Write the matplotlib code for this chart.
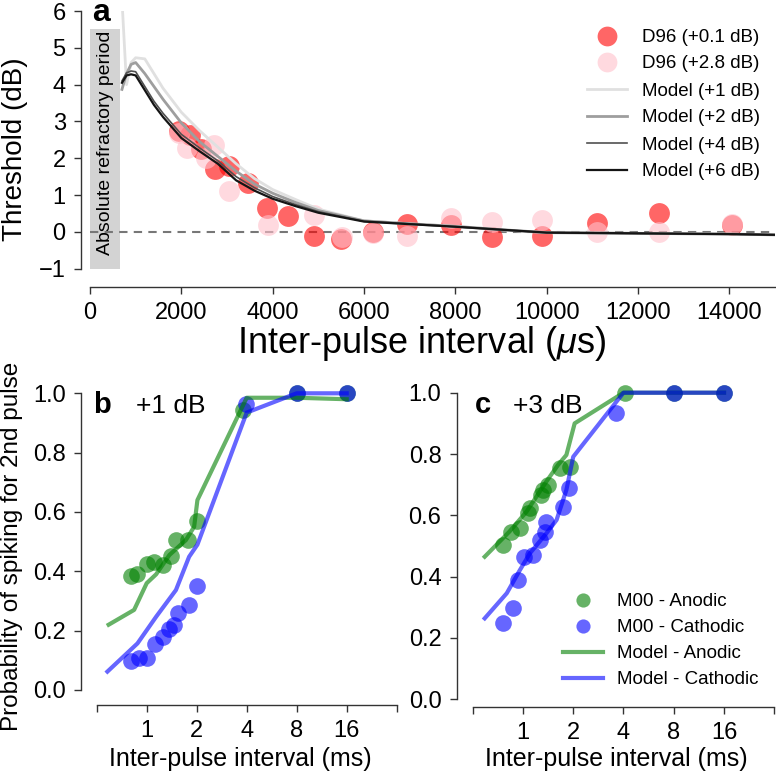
import matplotlib
matplotlib.use('Agg')
import matplotlib.pyplot as plt
from matplotlib.lines import Line2D
from matplotlib.patches import Rectangle

plt.rcParams['font.family'] = ['Liberation Sans', 'DejaVu Sans']
plt.rcParams['mathtext.fontset'] = 'custom'
plt.rcParams['mathtext.it'] = 'Liberation Sans:italic'
plt.rcParams['mathtext.rm'] = 'Liberation Sans'

# ---------------- data: panel a ----------------
d96_lo_x = [1950, 2200, 2420, 2730, 3050, 3450, 3870, 4330, 4900, 5500, 6200, 6950, 7900, 8800, 9900, 11100, 12450, 14050]
d96_lo_y = [2.73, 2.64, 2.26, 1.71, 1.80, 1.33, 0.64, 0.42, -0.11, -0.20, 0.0, 0.22, 0.19, -0.13, -0.11, 0.24, 0.51, 0.19]
d96_hi_x = [1950, 2130, 2530, 2720, 3050, 3900, 4900, 5520, 6200, 6950, 7900, 8800, 9900, 11100, 12450, 14050]
d96_hi_y = [2.68, 2.28, 2.02, 2.35, 1.10, 0.19, 0.46, -0.15, -0.02, -0.12, 0.37, 0.28, 0.33, 0.01, 0.01, 0.22]

model_x = [700, 800, 900, 1000, 1200, 1400, 1600, 2000, 2400, 2800, 3200, 3600, 4000, 4500, 5000,
           6000, 7000, 8000, 9000, 10000, 11000, 12000, 13000, 14000, 15000]
model_1db = [6.3, 4.0, 4.6, 4.73, 4.70, 4.30, 3.90, 3.25, 2.75, 2.30, 1.85, 1.45, 1.15, 0.88, 0.62,
             0.30, 0.22, 0.15, 0.06, -0.02, -0.03, -0.04, -0.05, -0.06, -0.08]
model_2db = [3.87, 4.30, 4.55, 4.60, 4.30, 3.95, 3.60, 2.96, 2.45, 2.05, 1.65, 1.30, 1.05, 0.80, 0.58,
             0.30, 0.22, 0.15, 0.06, -0.02, -0.03, -0.04, -0.05, -0.06, -0.08]
model_4db = [4.10, 4.32, 4.37, 4.35, 3.95, 3.55, 3.22, 2.65, 2.28, 1.93, 1.50, 1.20, 0.96, 0.74, 0.55,
             0.29, 0.22, 0.14, 0.06, -0.02, -0.03, -0.04, -0.05, -0.06, -0.08]
model_6db = [4.05, 4.25, 4.28, 4.25, 3.85, 3.45, 3.12, 2.55, 2.19, 1.85, 1.40, 1.12, 0.90, 0.70, 0.52,
             0.28, 0.21, 0.14, 0.06, -0.02, -0.03, -0.04, -0.05, -0.06, -0.08]
legend_a_labels = ['D96 (+0.1 dB)', 'D96 (+2.8 dB)', 'Model (+1 dB)', 'Model (+2 dB)', 'Model (+4 dB)', 'Model (+6 dB)']

# ---------------- data: panel b (+1 dB) ----------------
b_an_x = [0.80, 0.88, 1.0, 1.1, 1.25, 1.4, 1.5, 1.78, 2.0, 3.8, 8, 16]
b_an_y = [0.385, 0.39, 0.425, 0.43, 0.42, 0.45, 0.505, 0.505, 0.57, 0.945, 1.0, 1.0]
b_ca_x = [0.80, 0.90, 1.01, 1.12, 1.25, 1.37, 1.45, 1.55, 1.79, 2.0, 3.94, 8, 16]
b_ca_y = [0.098, 0.107, 0.107, 0.155, 0.18, 0.205, 0.22, 0.258, 0.285, 0.35, 0.965, 1.0, 1.0]
b_man_x = [0.59, 0.84, 1.0, 1.14, 1.37, 1.72, 1.93, 2.02, 4.0, 8.0, 16.0]
b_man_y = [0.22, 0.27, 0.36, 0.39, 0.455, 0.505, 0.55, 0.64, 0.985, 0.985, 0.98]
b_mca_x = [0.58, 0.88, 1.14, 1.5, 1.8, 2.02, 4.0, 8.0, 16.0]
b_mca_y = [0.062, 0.157, 0.247, 0.337, 0.449, 0.49, 0.935, 1.0, 1.0]

# ---------------- data: panel c (+3 dB) ----------------
c_an_x = [0.76, 0.85, 0.955, 1.07, 1.10, 1.29, 1.32, 1.41, 1.66, 1.90, 4.08, 8, 16]
c_an_y = [0.503, 0.547, 0.558, 0.607, 0.623, 0.666, 0.683, 0.70, 0.753, 0.759, 0.998, 1.0, 1.0]
c_ca_x = [0.76, 0.87, 0.93, 1.02, 1.15, 1.26, 1.35, 1.38, 1.74, 1.89, 3.63, 8, 16]
c_ca_y = [0.248, 0.297, 0.389, 0.465, 0.471, 0.52, 0.547, 0.579, 0.628, 0.688, 0.933, 1.0, 1.0]
c_man_x = [0.59, 0.83, 1.05, 1.38, 1.62, 1.82, 2.04, 4.0, 8.0, 16.0]
c_man_y = [0.465, 0.547, 0.612, 0.71, 0.764, 0.797, 0.90, 1.0, 1.0, 1.0]
c_mca_x = [0.59, 0.80, 0.955, 1.10, 1.38, 1.59, 1.82, 2.0, 4.0, 8.0, 16.0]
c_mca_y = [0.264, 0.346, 0.42, 0.476, 0.541, 0.585, 0.683, 0.791, 1.0, 1.0, 1.0]
legend_c_labels = ['M00 - Anodic', 'M00 - Cathodic', 'Model - Anodic', 'Model - Cathodic']

xticks_ms = [0.5, 1, 2, 4, 8, 16, 32]
xticklabels_ms = ['', '1', '2', '4', '8', '16', '']

W, H = 776, 774
fig = plt.figure(figsize=(W / 100, H / 100), dpi=100)


def box(x0, x1, ytop, ybot):
    return [x0 / W, 1 - ybot / H, (x1 - x0) / W, (ybot - ytop) / H]


def fx(x):
    return x / W


def fy(y):
    return 1 - y / H


SPINE = '#333333'
TICKFS = 17


def style(ax, left_out, bottom_out):
    for s in ['top', 'right']:
        ax.spines[s].set_visible(False)
    ax.spines['left'].set_position(('outward', left_out * 0.72))
    ax.spines['bottom'].set_position(('outward', bottom_out * 0.72))
    for s in ['left', 'bottom']:
        ax.spines[s].set_color(SPINE)
        ax.spines[s].set_linewidth(1.0)
    ax.tick_params(direction='out', length=5, width=1, color=SPINE, labelsize=TICKFS, pad=6)
    ax.patch.set_visible(False)


def manual_legend(handles, labels, x0, x1, xtext, rows, fontsize, marker_scale=1.0):
    """Draw legend entries at given pixel positions, copying style from the plotted artists."""
    for h, lab, yr in zip(handles, labels, rows):
        if h.get_linestyle() in ('None', 'none', '', ' '):
            fig.add_artist(Line2D([fx((x0 + x1) / 2)], [fy(yr)], transform=fig.transFigure,
                                  marker='o', linestyle='none', color=h.get_color(), alpha=h.get_alpha(),
                                  markersize=h.get_markersize() * marker_scale, markeredgecolor='none'))
        else:
            fig.add_artist(Line2D([fx(x0), fx(x1)], [fy(yr), fy(yr)], transform=fig.transFigure,
                                  color=h.get_color(), alpha=h.get_alpha(), linewidth=h.get_linewidth()))
        fig.text(fx(xtext), fy(yr), lab, fontsize=fontsize, ha='left', va='center_baseline')


# ---------------- panel a ----------------
ax = fig.add_axes(box(90, 775, 11, 268.7))
style(ax, 9, 18.3)
ax.set_xlim(0, 15000)
ax.set_ylim(-1, 6)
ax.spines['left'].set_bounds(-1, 6)
ax.spines['bottom'].set_bounds(0, 15000)
ax.set_yticks(range(-1, 7))
ax.set_xticks(range(0, 15000, 2000))
ax.add_patch(Rectangle((0, -1), 660, 6.5, facecolor='#d3d3d3', edgecolor='none', zorder=0))
ax.text(350, 2.41, 'Absolute refractory period', rotation=90, ha='center', va='center', fontsize=14, zorder=1)
ax.axhline(0, color='#777777', lw=1.5, ls=(0, (4, 3)), zorder=1)
h1, = ax.plot(d96_lo_x, d96_lo_y, 'o', color='red', alpha=0.6, ms=15, mec='none', zorder=2)
h2, = ax.plot(d96_hi_x, d96_hi_y, 'o', color='pink', alpha=0.6, ms=15, mec='none', zorder=2)
h3, = ax.plot(model_x, model_1db, color='#e0e0e0', lw=2.0, zorder=3)
h4, = ax.plot(model_x, model_2db, color='#9e9e9e', lw=2.0, zorder=3)
h5, = ax.plot(model_x, model_4db, color='#505050', lw=1.2, zorder=3)
h6, = ax.plot(model_x, model_6db, color='#151515', lw=1.6, zorder=3)
manual_legend([h1, h2, h3, h4, h5, h6], legend_a_labels, 586.7, 626.7, 641.7,
              [36, 62, 89, 116, 143, 170], 13.5, marker_scale=0.95)
fig.text(fx(92), fy(21), 'a', fontsize=23, fontweight='bold', ha='left', va='baseline')
fig.text(fx(15), fy(149), 'Threshold (dB)', rotation=90, ha='center', va='center', fontsize=20)
fig.text(fx(421), fy(343), r'Inter-pulse interval ($\mu$s)', ha='center', va='center', fontsize=26)

GREEN = 'green'
BLUE = 'blue'


def panel_bc(rect, lo, bo, an_x, an_y, ca_x, ca_y, man_x, man_y, mca_x, mca_y):
    ax = fig.add_axes(rect)
    style(ax, lo, bo)
    ax.set_xscale('log', base=2)
    ax.set_xlim(0.5, 32)
    ax.set_ylim(0, 1)
    ax.spines['left'].set_bounds(0, 1)
    ax.spines['bottom'].set_bounds(0.5, 32)
    ax.set_xticks(xticks_ms)
    ax.set_xticklabels(xticklabels_ms)
    ax.minorticks_off()
    ax.set_yticks([0, 0.2, 0.4, 0.6, 0.8, 1.0])
    ax.set_yticklabels(['0.0', '0.2', '0.4', '0.6', '0.8', '1.0'])
    p1, = ax.plot(an_x, an_y, 'o', color=GREEN, alpha=0.6, ms=12, mec='none', clip_on=False)
    p2, = ax.plot(ca_x, ca_y, 'o', color=BLUE, alpha=0.6, ms=12, mec='none', clip_on=False)
    l1, = ax.plot(man_x, man_y, '-', color=GREEN, alpha=0.6, lw=3, clip_on=False)
    l2, = ax.plot(mca_x, mca_y, '-', color=BLUE, alpha=0.6, lw=3, clip_on=False)
    return ax, [p1, p2, l1, l2]


axb, _ = panel_bc(box(96.7, 396.7, 393.3, 690), 15.7, 15, b_an_x, b_an_y, b_ca_x, b_ca_y,
                  b_man_x, b_man_y, b_mca_x, b_mca_y)
axc, hs = panel_bc(box(472.7, 774.3, 392.7, 699.3), 16, 7.4, c_an_x, c_an_y, c_ca_x, c_ca_y,
                   c_man_x, c_man_y, c_mca_x, c_mca_y)
manual_legend(hs, legend_c_labels, 563, 603, 617.3, [600, 626, 652, 678], 13.5, marker_scale=0.85)

fig.text(fx(93), fy(413), 'b', fontsize=21, fontweight='bold', ha='left', va='baseline')
fig.text(fx(136), fy(413), '+1 dB', fontsize=19, ha='left', va='baseline')
fig.text(fx(475), fy(413), 'c', fontsize=21, fontweight='bold', ha='left', va='baseline')
fig.text(fx(513), fy(413), '+3 dB', fontsize=19, ha='left', va='baseline')
fig.text(fx(12), fy(546.5), 'Probability of spiking for 2nd pulse', rotation=90, ha='center', va='center', fontsize=17.5)
fig.text(fx(240), fy(759), 'Inter-pulse interval (ms)', ha='center', va='center', fontsize=18)
fig.text(fx(616.7), fy(759), 'Inter-pulse interval (ms)', ha='center', va='center', fontsize=18)

fig.savefig('out.png', dpi=100)
